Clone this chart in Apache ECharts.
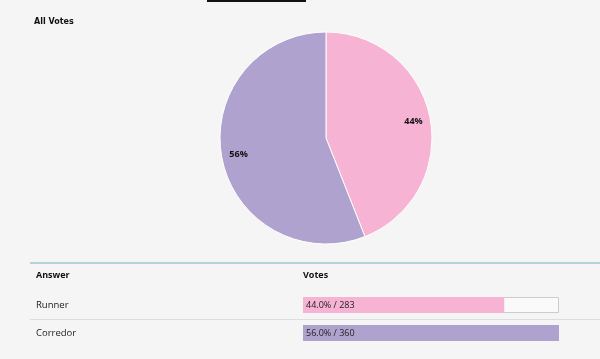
<!DOCTYPE html>
<html><head><meta charset="utf-8">
<script src="https://cdn.jsdelivr.net/npm/echarts@6/dist/echarts.min.js"></script>
<style>html,body{margin:0;padding:0;background:#f5f5f5;}#c{width:600px;height:359px;}</style>
</head><body><div id="c"></div>
<script>
const answers = ['Runner', 'Corredor'];
const votes = [283, 360];
const colors = ['#f6b3d3', '#b0a2cf'];

const total = votes.reduce((a, b) => a + b, 0);
const maxVotes = Math.max(...votes);
const pieData = answers.map((n, i) => ({ name: n, value: votes[i], itemStyle: { color: colors[i] } }));
const fontMain = '"Open Sans", "DejaVu Sans", sans-serif';

const chart = echarts.init(document.getElementById('c'), null, { renderer: 'canvas' });
chart.setOption({
  backgroundColor: '#f5f5f5',
  animation: false,
  title: {
    text: 'All Votes', left: 29, top: 13,
    textStyle: { fontSize: 8, fontWeight: 'bold', color: '#111', fontFamily: '"DejaVu Sans", sans-serif' }
  },
  graphic: [
    { type: 'rect', shape: { x: 207, y: 0, width: 99, height: 2 }, style: { fill: '#111' } },
    { type: 'line', shape: { x1: 30, y1: 263, x2: 600, y2: 263 }, style: { stroke: '#9cc9c9', lineWidth: 1.5 } },
    { type: 'line', shape: { x1: 30, y1: 319.5, x2: 600, y2: 319.5 }, style: { stroke: '#dddddd', lineWidth: 1 } },
    { type: 'text', left: 36, top: 271, style: { text: 'Answer', font: 'bold 9px ' + fontMain, fill: '#111' } },
    { type: 'text', left: 303, top: 271, style: { text: 'Votes', font: 'bold 9px ' + fontMain, fill: '#111' } }
  ],
  grid: { left: 303, width: 256, top: 291, height: 56, containLabel: false },
  xAxis: { type: 'value', min: 0, max: maxVotes, show: false },
  yAxis: {
    type: 'category', data: answers, inverse: true,
    axisLine: { show: false }, axisTick: { show: false }, splitLine: { show: false },
    axisLabel: { align: 'left', margin: 267, fontSize: 9.5, color: '#222', fontFamily: fontMain }
  },
  series: [
    {
      type: 'pie', radius: [0, 106], center: [326, 138], startAngle: 90, clockwise: true,
      label: { show: false }, labelLine: { show: false },
      itemStyle: { borderColor: '#ffffff', borderWidth: 1 },
      data: pieData
    },
    {
      type: 'pie', radius: [66, 106], center: [326, 138], startAngle: 90, clockwise: true, silent: true,
      itemStyle: { color: 'rgba(0,0,0,0)' },
      label: { show: true, position: 'inside', formatter: p => Math.round(p.percent) + '%', fontSize: 9, fontWeight: 'bold', color: '#111', fontFamily: fontMain },
      labelLine: { show: false },
      data: answers.map((n, i) => ({ name: n, value: votes[i] }))
    },
    {
      type: 'bar', barWidth: 16, silent: true,
      itemStyle: { color: '#fafafa', borderColor: '#cccccc', borderWidth: 1 },
      data: answers.map(() => maxVotes), z: 1
    },
    {
      type: 'bar', barWidth: 16, barGap: '-100%', z: 2,
      data: votes.map((v, i) => ({ value: v, itemStyle: { color: colors[i] } })),
      label: {
        show: true, position: 'insideLeft', offset: [-2, 0], fontSize: 9, color: '#222', fontFamily: fontMain,
        formatter: p => (votes[p.dataIndex] / total * 100).toFixed(1) + '% / ' + votes[p.dataIndex]
      }
    }
  ]
});
</script></body></html>
